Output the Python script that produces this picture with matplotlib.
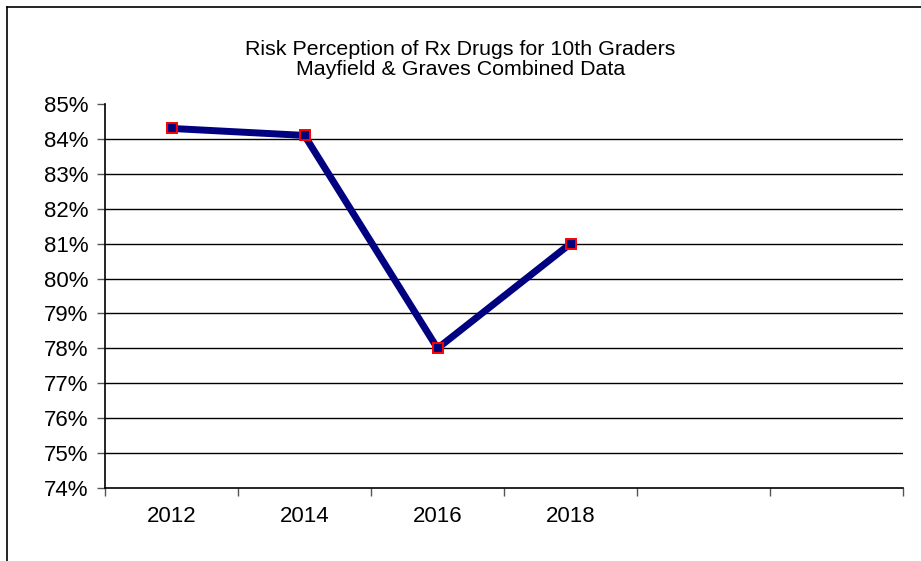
import matplotlib.pyplot as plt
from matplotlib.lines import Line2D
from matplotlib.ticker import FixedLocator, PercentFormatter

plt.rcParams['font.family'] = ['Liberation Sans', 'DejaVu Sans']

years = ['2012', '2014', '2016', '2018']
values = [84.3, 84.1, 78.0, 81.0]
n_slots = 6

fig = plt.figure(figsize=(9.21, 5.61), dpi=100)
ax = fig.add_axes([105 / 921, 73 / 561, 798 / 921, 384 / 561])

xs = [i + 0.5 for i in range(len(values))]
ax.plot(xs, values, color='#000080', linewidth=5, solid_capstyle='butt',
        marker='s', markersize=7.5, markerfacecolor='#000080',
        markeredgecolor='red', markeredgewidth=1.4, zorder=3)

ax.set_xlim(0, n_slots)
ax.set_ylim(74, 85)
ax.yaxis.set_major_locator(FixedLocator(range(74, 86)))
ax.yaxis.set_major_formatter(PercentFormatter(decimals=0))
ax.set_xticks(range(n_slots + 1))
ax.set_xticklabels([])
ax.set_xticks(xs, minor=True)
ax.set_xticklabels(years, minor=True)
ax.tick_params(axis='x', which='major', length=6, width=1, color='#555555', direction='out')
ax.tick_params(axis='x', which='minor', length=0, pad=13, labelsize=16)
ax.tick_params(axis='y', length=6, width=1, color='#555555', labelsize=16, pad=6)

for v in range(75, 85):
    ax.axhline(v, color='black', linewidth=1, zorder=1)

for side in ['top', 'right']:
    ax.spines[side].set_visible(False)
ax.spines['left'].set_linewidth(1.2)
ax.spines['bottom'].set_linewidth(1.2)

fig.text(0.5, 1 - 59.5 / 561, 'Risk Perception of Rx Drugs for 10th Graders\nMayfield & Graves Combined Data',
         ha='center', va='center', fontsize=15.4, linespacing=1.12)

fig.add_artist(Line2D([7 / 921, 7 / 921], [0, 1 - 7 / 561], color='black', linewidth=1.2))
fig.add_artist(Line2D([7 / 921, 1], [1 - 7 / 561, 1 - 7 / 561], color='black', linewidth=1.2))

fig.savefig('out.png', dpi=100)
